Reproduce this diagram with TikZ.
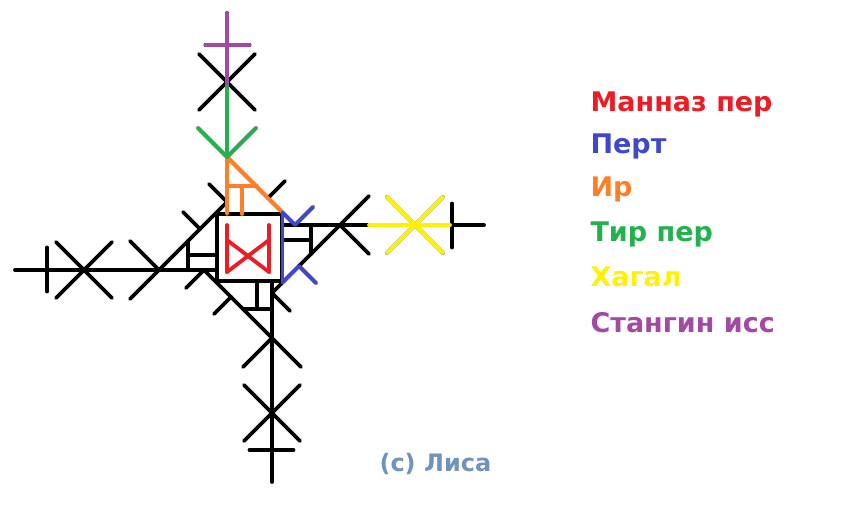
\documentclass[tikz,border=0pt]{standalone}
\usepackage{fontspec}
\setmainfont{DejaVu Sans}
\usepackage{tikz}
\definecolor{paintred}{RGB}{237,28,36}
\definecolor{paintblue}{RGB}{63,72,204}
\definecolor{paintorange}{RGB}{255,127,39}
\definecolor{paintgreen}{RGB}{34,177,76}
\definecolor{paintyellow}{RGB}{255,242,0}
\definecolor{paintpurple}{RGB}{163,73,164}
\definecolor{paintgray}{RGB}{112,146,190}

\begin{document}
\begin{tikzpicture}[x=1pt, y=-1pt,
    stroke/.style={line width=3.8pt, line cap=round, line join=round},
    legend/.style={anchor=base west, font=\bfseries\fontsize{27}{31}\selectfont}]
      \useasboundingbox (0,0) rectangle (850,504);
      % black stave: one arm, turned four times round the square
      \foreach \r in {0,90,180,270}{
        \begin{scope}[shift={(249.5,247.5)}, rotate=\r]
          \draw[stroke] (-234.5,22.5) -- (-32.5,22.5);
          \draw[stroke] (-202.5,0) -- (-202.5,44);
          \draw[stroke] (-193.5,-5.5) -- (-137.5,50.5);
          \draw[stroke] (-193.5,50.5) -- (-137.5,-5.5);
          \draw[stroke] (-90.5,22.5) -- (-119.5,-6.5);
          \draw[stroke] (-119.5,51.5) -- (-22.5,-45.5) -- (-40.5,-63.5);
          \draw[stroke] (-49.5,-18.5) -- (-66.5,-35.5);
          \draw[stroke] (-61.5,-6.5) -- (-61.5,22.5);
          \draw[stroke] (-61.5,7.5) -- (-32.5,7.5);
        \end{scope}
      }
      \draw[stroke, fill=white] (217,214) rectangle (282,281);
      % coloured runes on top
      \draw[stroke, paintred] (227,225) -- (227,272) (269,225) -- (269,272);
      \draw[stroke, paintred] (227,240) -- (269,272) (269,240) -- (227,272);
      \draw[stroke, paintorange] (227,157) -- (227,214) (227,157) -- (282.5,212.5);
      \draw[stroke, paintorange] (227,186) -- (256,186) (242,186) -- (242,214);
      \draw[stroke, paintgreen] (227,84) -- (227,157);
      \draw[stroke, paintgreen] (198,128) -- (227,157) -- (256,128);
      \draw[stroke, paintpurple] (227,13) -- (227,84) (205.5,45) -- (249.5,45);
      \draw[stroke, paintblue] (282.5,212.5) -- (282.5,282.5);
      \draw[stroke, paintblue] (282.5,212.5) -- (295,225) -- (313,207);
      \draw[stroke, paintblue] (282.5,282.5) -- (299,266) -- (316,283);
      \draw[stroke, paintyellow] (369,225) -- (450,225);
      \draw[stroke, paintyellow] (387,197) -- (443,253) (387,253) -- (443,197);
      % legend
      \node[legend, text=paintred] at (587,111) (manaz) {Манназ пер};
      \node[legend, text=paintblue] at (587,153) (pert) {Перт};
      \node[legend, text=paintorange] at (587,196) (ir) {Ир};
      \node[legend, text=paintgreen] at (587,241) (tir) {Тир пер};
      \node[legend, text=paintyellow] at (587,286) (hagal) {Хагал};
      \node[legend, text=paintpurple] at (587,332) (stangin) {Стангин исс};
      \node[legend, text=paintgray, font=\bfseries\fontsize{24}{28}\selectfont] at (376,471) (copy) {(c) Лиса};
    \end{tikzpicture}
\end{document}
